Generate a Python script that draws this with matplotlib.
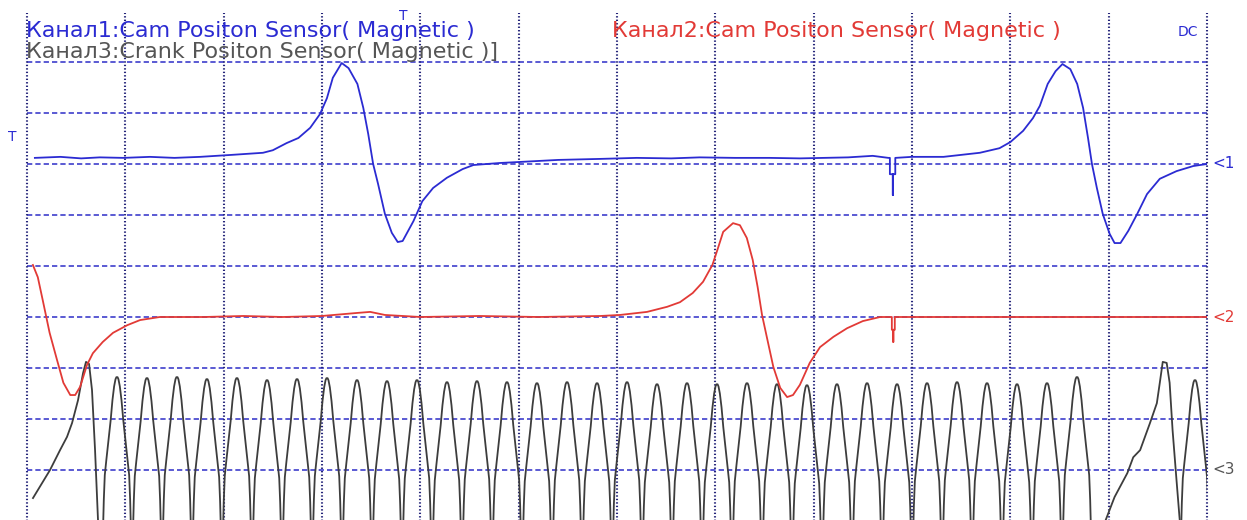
import numpy as np
import matplotlib
matplotlib.use("Agg")
import matplotlib.pyplot as plt

# ---------------- data (time in ms, amplitude in V, 1 V/div) ----------------
ch1_t = [0.8, 3.4, 5.5, 7.4, 9.8, 12.5, 15.0, 17.6, 20.9, 24.0, 25.0, 26.4, 27.6, 28.8,
         29.8, 30.5, 31.1, 32.0, 32.7, 33.6, 34.2, 34.7, 35.2, 35.7, 36.4, 37.1, 37.7,
         38.2, 39.3, 40.2, 41.3, 42.7, 44.3, 45.4, 48.1, 50.1, 54.0, 58.3, 62.0, 65.5,
         68.4, 72.0, 75.5, 78.6, 83.5, 86.0, 87.6,
         87.75, 87.75, 88.05, 88.05, 88.05, 88.3, 88.3,
         90.0, 93.2, 96.9, 98.9, 100.0, 101.3, 102.3, 103.0, 103.8, 104.6, 105.3, 106.1,
         106.8, 107.4, 107.9, 108.3, 108.8, 109.4, 110.1, 110.6, 111.2, 112.0, 112.9,
         113.9, 115.2, 116.9, 118.6, 120.0]
ch1_v = [0.12, 0.14, 0.11, 0.13, 0.12, 0.14, 0.12, 0.14, 0.18, 0.22, 0.27, 0.41, 0.51, 0.71,
         0.98, 1.29, 1.69, 1.98, 1.88, 1.57, 1.10, 0.59, 0.00, -0.39, -0.98, -1.35, -1.53,
         -1.51, -1.12, -0.73, -0.47, -0.27, -0.10, -0.02, 0.02, 0.04, 0.08, 0.10, 0.12, 0.11,
         0.13, 0.12, 0.12, 0.11, 0.13, 0.16, 0.12,
         0.12, -0.20, -0.20, -0.61, -0.20, -0.20, 0.12,
         0.14, 0.14, 0.22, 0.31, 0.43, 0.65, 0.90, 1.14, 1.57, 1.82, 1.96, 1.86,
         1.57, 1.10, 0.51, 0.00, -0.47, -0.98, -1.37, -1.55, -1.55, -1.31, -0.98,
         -0.59, -0.29, -0.14, -0.04, 0.00]

ch2_t = [0.6, 1.1, 1.6, 2.3, 3.05, 3.7, 4.4, 4.9, 5.4, 6.1, 6.7, 7.7, 8.75, 10.2, 11.5,
         13.5, 18.0, 22.0, 26.0, 30.0, 33.6, 34.9, 36.4, 40.0, 46.0, 52.0, 58.3, 60.3,
         63.05, 65.1, 66.4, 67.7, 68.75, 69.7, 70.2, 70.8, 71.8, 72.5, 73.2, 73.8, 74.3,
         74.75, 75.3, 75.9, 76.6, 77.3, 77.9, 78.6, 79.6, 80.65, 82.0, 83.4, 85.0, 86.75,
         87.95, 87.95, 88.1, 88.1, 88.1, 88.25, 88.25, 100.0, 120.0]
ch2_v = [1.02, 0.78, 0.33, -0.31, -0.84, -1.29, -1.53, -1.53, -1.37, -0.94, -0.71, -0.49,
         -0.31, -0.16, -0.06, 0.0, 0.0, 0.02, 0.0, 0.02, 0.08, 0.10, 0.04, 0.0, 0.02, 0.0,
         0.02, 0.04, 0.10, 0.20, 0.29, 0.47, 0.69, 1.02, 1.31, 1.67, 1.84, 1.80, 1.55,
         1.12, 0.59, 0.04, -0.45, -0.98, -1.39, -1.57, -1.53, -1.33, -0.90, -0.59, -0.39,
         -0.22, -0.08, 0.0,
         0.0, -0.25, -0.25, -0.49, -0.25, -0.25, 0.0, 0.0, 0.0]

# crank sensor: ramps around the missing tooth
ch3_ramp1_t = [0.61, 2.34, 3.36, 4.07, 4.58, 5.19, 5.70, 6.00, 6.31, 6.61, 6.92, 7.22, 7.53]
ch3_ramp1_v = [-0.55, 0.0, 0.39, 0.65, 0.92, 1.37, 1.90, 2.12, 2.08, 1.57, 0.39, -0.98, -1.47]
ch3_ramp2_t = [108.3, 108.9, 109.5, 110.6, 111.9, 112.5, 113.2, 114.2, 114.9, 115.2, 115.5,
               115.9, 116.2, 116.5, 116.9, 117.2, 117.4]
ch3_ramp2_v = [-1.47, -1.50, -1.08, -0.53, -0.06, 0.25, 0.39, 0.92, 1.31, 1.71, 2.12,
               2.10, 1.71, 0.78, -0.20, -0.92, -1.37]
# crank sensor: tooth peak times and heights
tooth_t = [9.15, 12.20, 15.25, 18.30, 21.35, 24.41, 27.46, 30.51, 33.56, 36.61, 39.66,
           42.71, 45.76, 48.81, 51.86, 54.92, 57.97, 61.02, 64.07, 67.12, 70.17, 73.22,
           76.27, 79.32, 82.37, 85.43, 88.48, 91.53, 94.58, 97.63, 100.68, 103.73, 106.78,
           118.78]
tooth_h = [1.82, 1.80, 1.82, 1.78, 1.80, 1.76, 1.78, 1.80, 1.76, 1.74, 1.76, 1.72, 1.74,
           1.72, 1.70, 1.72, 1.70, 1.72, 1.68, 1.70, 1.68, 1.70, 1.68, 1.66, 1.68, 1.70,
           1.68, 1.70, 1.72, 1.70, 1.68, 1.70, 1.82, 1.76]
# sampled shape of one tooth (offset from peak in ms, level in V)
tooth_dt = [-1.53, -1.42, -1.34, -1.24, -1.08, -0.86, -0.64, -0.46, -0.29, -0.15, -0.06, 0.0,
            0.06, 0.15, 0.29, 0.46, 0.64, 0.86, 1.08, 1.24, 1.34, 1.42, 1.53]
tooth_v = [-1.47, -1.18, -0.59, -0.10, 0.20, 0.59, 0.98, 1.37, 1.64, 1.78, 1.82, 1.82,
           1.82, 1.78, 1.64, 1.37, 0.98, 0.59, 0.20, -0.10, -0.59, -1.18, -1.47]

ch_offsets = [7, 4, 1]          # zero markers <1, <2, <3 (divisions)
titles = ["Канал1:Cam Positon Sensor( Magnetic )",
          "Канал2:Cam Positon Sensor( Magnetic )",
          "Канал3:Crank Positon Sensor( Magnetic )]"]

# ---------------- figure ----------------
plt.rcParams['lines.scale_dashes'] = False
W, H = 1247, 520
fig = plt.figure(figsize=(W / 100, H / 100), dpi=100)
fig.patch.set_facecolor('white')

left_px, right_px, top_px, bot_px = 27, 1207, 11, 521
ax = fig.add_axes([left_px / W, (H - bot_px) / H, (right_px - left_px) / W, (bot_px - top_px) / H])
ax.set_xlim(0, 120)
ax.set_ylim(0, 10)
ax.set_facecolor('white')
for s in ax.spines.values():
    s.set_visible(False)
ax.set_xticks([])
ax.set_yticks([])

BLUE = '#2b2bd2'
RED = '#e23a36'
GRAY = '#3d3d3d'

# grid
for y in range(1, 10):
    ax.axhline(y, color='#2e2ec8', lw=1.1, dashes=(3.8, 2.2), zorder=1)
for x in range(0, 121, 10):
    ax.plot([x, x], [0, 9.96], color='#25257a', lw=1.5, dashes=(1.0, 1.5),
            zorder=1, clip_on=False)

# channel 3 (crank)
tt = np.concatenate([np.asarray(tooth_dt) + t0 for t0 in tooth_t])
tv = np.concatenate([np.asarray(tooth_v) - max(tooth_v) + h for h in tooth_h])
ax.plot(tt, tv + ch_offsets[2], color=GRAY, lw=1.3, zorder=2)
ax.plot(ch3_ramp1_t, np.asarray(ch3_ramp1_v) + ch_offsets[2], color=GRAY, lw=1.3, zorder=2)
ax.plot(ch3_ramp2_t, np.asarray(ch3_ramp2_v) + ch_offsets[2], color=GRAY, lw=1.3, zorder=2)

# channel 2
ax.plot(ch2_t, np.asarray(ch2_v) + ch_offsets[1], color=RED, lw=1.3, zorder=3)
# channel 1
ax.plot(ch1_t, np.asarray(ch1_v) + ch_offsets[0], color=BLUE, lw=1.3, zorder=4)

# texts (pixel positions converted to figure fractions)
def fx(px):
    return px / W

def fy(py):
    return 1 - py / H

fs = 16
fig.text(fx(26), fy(31), titles[0], color=BLUE, fontsize=fs, va='center', ha='left')
fig.text(fx(26), fy(52), titles[2], color='#555555', fontsize=fs, va='center', ha='left')
fig.text(fx(612), fy(31), titles[1], color=RED, fontsize=fs, va='center', ha='left')
fig.text(fx(403), fy(16), "T", color=BLUE, fontsize=10, va='center', ha='center')
fig.text(fx(12), fy(137), "T", color=BLUE, fontsize=10, va='center', ha='center')
fig.text(fx(1188), fy(32), "DC", color=BLUE, fontsize=10, va='center', ha='center')
fig.text(fx(1212), fy(163), "<1", color=BLUE, fontsize=11, va='center', ha='left')
fig.text(fx(1212), fy(317), "<2", color=RED, fontsize=11, va='center', ha='left')
fig.text(fx(1212), fy(470), "<3", color='#555555', fontsize=11, va='center', ha='left')

fig.savefig("out.png", dpi=100, facecolor='white')
